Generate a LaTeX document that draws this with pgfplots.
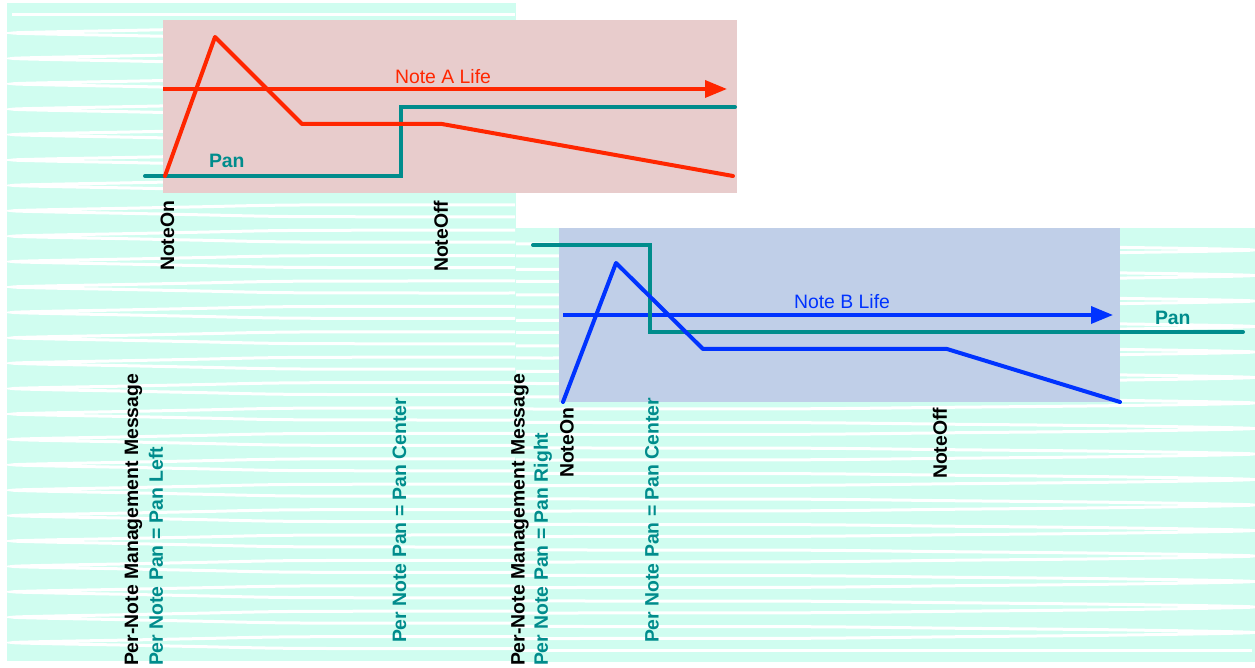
\documentclass[border=0pt]{standalone}
\usepackage{pgfplots}
\pgfplotsset{compat=1.18}
\usepackage{pgfplotstable}
\usepackage{fontspec}
\setmainfont{Liberation Sans}
\usetikzlibrary{arrows.meta}
\definecolor{mint}{RGB}{208,253,240}
\definecolor{pinkbg}{RGB}{232,204,204}
\definecolor{bluebg}{RGB}{192,207,232}
\definecolor{nred}{RGB}{255,38,0}
\definecolor{nteal}{RGB}{0,140,140}
\definecolor{nblue}{RGB}{0,51,255}
\tikzset{lbl/.style={inner sep=0pt, outer sep=0pt, font=\fontsize{9.7}{11.6}\selectfont}}

\pgfplotstableread{
x dy
515 -6
300 -5.8
200 -4
120 -2.4
50 -1.1
13 0
50 1.1
120 2.4
200 4
300 5.8
515 6
}\leftloop

\pgfplotstableread{
x dy
516 -6
800 -5.8
950 -4.3
1120 -2.6
1253 0
1120 2.6
950 4.3
800 5.8
516 6
}\rightloop

\begin{document}
\begin{tikzpicture}
\begin{axis}[scale only axis, width=627.5pt, height=334pt,
  xmin=0, xmax=1255, ymin=0, ymax=668, y dir=reverse,
  hide axis, clip=false]
% page
\addplot[fill=white, draw=none] coordinates {(0,0)(1255,0)(1255,668)(0,668)} --cycle;
% mint backgrounds
\addplot[fill=mint, draw=none] coordinates {(7,3)(516,3)(516,661)(7,661)} --cycle;
\addplot[fill=mint, draw=none] coordinates {(516,228)(1255,228)(1255,662)(516,662)} --cycle;
% stripes
\pgfplotsinvokeforeach{33,58.4,83.8,109.2,134.6,160,185.4,210.8,236.2,261.6,287,312.4,337.8,363.2,388.6,414,439.4,464.8,490.2,515.6,541,566.4,591.8,617.2,642.6}{
  \addplot[white, line width=1.5pt, smooth, tension=0.5] table[x=x, y expr=\thisrow{dy}+#1]{\leftloop};
}
\pgfplotsinvokeforeach{250,275.5,301,326.5,352,377.5,403,428.5,454,479.5,505,530.5,556,581.5,607,632.5}{
  \addplot[white, line width=1.5pt, smooth, tension=0.5] table[x=x, y expr=\thisrow{dy}+#1]{\rightloop};
}
\addplot[white, line width=1.5pt] coordinates {(12,15)(515,15)};
\addplot[white, line width=1.5pt] coordinates {(516,651)(1252,651)};
% note boxes
\addplot[fill=pinkbg, draw=none] coordinates {(163,20)(737,20)(737,193)(163,193)} --cycle;
\addplot[fill=bluebg, draw=none] coordinates {(559,228)(1120,228)(1120,402)(559,402)} --cycle;
% Note A
\addplot[nred, line width=1.75pt, -{Triangle[length=11pt,width=8.5pt]}] coordinates {(163,89)(727,89)};
\addplot[nteal, line width=2pt, line cap=round] coordinates {(145,176)(401,176)(401,107)(735,107)};
\addplot[nred, line width=2pt, line cap=round, line join=round] coordinates {(165,176)(215,37)(302,124)(442,124)(733,176)};
% Note B
\addplot[nblue, line width=1.75pt, -{Triangle[length=11pt,width=8.5pt]}] coordinates {(563,315)(1113,315)};
\addplot[nteal, line width=2pt, line cap=round] coordinates {(533,245)(650,245)(650,332)(1243,332)};
\addplot[nblue, line width=2pt, line cap=round, line join=round] coordinates {(563,402)(616,263)(703,349)(947,349)(1120,402)};
% horizontal texts
\node[lbl, anchor=base west, text=nred] at (axis cs:395,84) {Note A Life};
\node[lbl, anchor=base west, text=nteal] at (axis cs:209,168) {\bfseries Pan};
\node[lbl, anchor=base west, text=nblue] at (axis cs:794,309) {Note B Life};
\node[lbl, anchor=base west, text=nteal] at (axis cs:1155,325) {\bfseries Pan};
% rotated labels
\node[lbl, rotate=90, anchor=west] at (axis cs:167.5,271) {\bfseries NoteOn};
\node[lbl, rotate=90, anchor=west] at (axis cs:441,272) {\bfseries NoteOff};
\node[lbl, rotate=90, anchor=west] at (axis cs:567,478) {\bfseries NoteOn};
\node[lbl, rotate=90, anchor=west] at (axis cs:940,479) {\bfseries NoteOff};
\node[lbl, rotate=90, anchor=west] at (axis cs:133.5,666) {\bfseries Per-Note Management Message};
\node[lbl, rotate=90, anchor=west, text=nteal] at (axis cs:156,666) {\bfseries Per Note Pan = Pan Left};
\node[lbl, rotate=90, anchor=west, text=nteal] at (axis cs:399.5,643) {\bfseries Per Note Pan = Pan Center};
\node[lbl, rotate=90, anchor=west] at (axis cs:520,666) {\bfseries Per-Note Management Message};
\node[lbl, rotate=90, anchor=west, text=nteal] at (axis cs:543,666) {\bfseries Per Note Pan = Pan Right};
\node[lbl, rotate=90, anchor=west, text=nteal] at (axis cs:652,643) {\bfseries Per Note Pan = Pan Center};
\end{axis}
\end{tikzpicture}
\end{document}
